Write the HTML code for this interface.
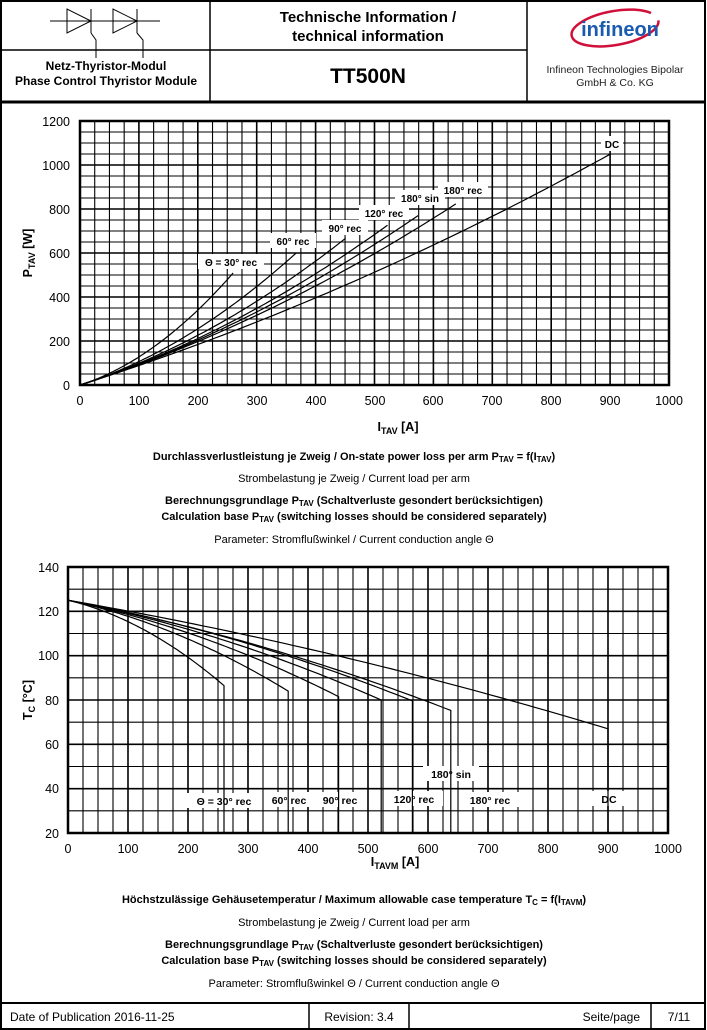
<!DOCTYPE html>
<html><head><meta charset="utf-8"><style>
body{margin:0;background:#fff;}
svg{display:block;font-family:"Liberation Sans",Arial,sans-serif;}
</style></head><body>
<svg id="s" width="707" height="1030" xmlns="http://www.w3.org/2000/svg">
<rect x="0" y="0" width="707" height="1030" fill="#fff"/>
<rect x="1" y="1" width="704" height="1028" fill="none" stroke="#000" stroke-width="2"/>
<line x1="210" y1="1" x2="210" y2="101" stroke="#000" stroke-width="1.5"/>
<line x1="527" y1="1" x2="527" y2="101" stroke="#000" stroke-width="1.5"/>
<line x1="1" y1="50" x2="527" y2="50" stroke="#000" stroke-width="1.5"/>
<line x1="1" y1="102" x2="706" y2="102" stroke="#000" stroke-width="3"/>
<line x1="1" y1="1003" x2="706" y2="1003" stroke="#000" stroke-width="2"/>
<line x1="309" y1="1003" x2="309" y2="1030" stroke="#000" stroke-width="1.5"/>
<line x1="409" y1="1003" x2="409" y2="1030" stroke="#000" stroke-width="1.5"/>
<line x1="651" y1="1003" x2="651" y2="1030" stroke="#000" stroke-width="1.5"/>
<g stroke="#000" stroke-width="1" fill="none">
<line x1="50" y1="21" x2="160" y2="21"/>
<polygon points="67,9 67,33 91,21"/><line x1="91" y1="9" x2="91" y2="33"/>
<polyline points="91,33 96,40 96,58"/>
<polygon points="113,9 113,33 137,21"/><line x1="137" y1="9" x2="137" y2="33"/>
<polyline points="137,33 143,40 143,58"/>
</g>
<text x="368" y="22" font-size="15" font-weight="bold" text-anchor="middle">Technische Information /</text>
<text x="368" y="41" font-size="15" font-weight="bold" text-anchor="middle">technical information</text>
<text x="106" y="70" font-size="12" font-weight="bold" text-anchor="middle">Netz-Thyristor-Modul</text>
<text x="106" y="85" font-size="12" font-weight="bold" text-anchor="middle">Phase Control Thyristor Module</text>
<text x="368" y="83" font-size="21" font-weight="bold" text-anchor="middle">TT500N</text>
<ellipse cx="615" cy="28" rx="44" ry="17" fill="none" stroke="#d0103a" stroke-width="2.5" stroke-dasharray="190 40" transform="rotate(-10 615 28)"/>
<text x="620" y="36" font-size="20" font-weight="bold" fill="#1a5bb0" text-anchor="middle">infineon</text>
<text x="615" y="73" font-size="10.5" text-anchor="middle" fill="#222">Infineon Technologies Bipolar</text>
<text x="615" y="86" font-size="10.5" text-anchor="middle" fill="#222">GmbH &amp; Co. KG</text>
<g id="g1"></g><g id="g2"></g>
<g font-size="12.5" text-anchor="end">
<text x="70" y="126">1200</text><text x="70" y="170">1000</text><text x="70" y="214">800</text><text x="70" y="258">600</text><text x="70" y="302">400</text><text x="70" y="346">200</text><text x="70" y="390">0</text>
</g>
<g font-size="12.5" text-anchor="middle">
<text x="80" y="405">0</text><text x="139" y="405">100</text><text x="198" y="405">200</text><text x="257" y="405">300</text><text x="316" y="405">400</text><text x="375" y="405">500</text><text x="433" y="405">600</text><text x="492" y="405">700</text><text x="551" y="405">800</text><text x="610" y="405">900</text><text x="669" y="405">1000</text>
</g>
<text x="398" y="431" font-size="12.5" font-weight="bold" text-anchor="middle">I<tspan font-size="9" dy="3">TAV</tspan><tspan dy="-3"> [A]</tspan></text>
<text transform="translate(32 253) rotate(-90)" font-size="12.5" font-weight="bold" text-anchor="middle">P<tspan font-size="9" dy="3">TAV</tspan><tspan dy="-3"> [W]</tspan></text>
<text x="354" y="460" font-size="11" font-weight="bold" text-anchor="middle">Durchlassverlustleistung je Zweig / On-state power loss per arm P<tspan font-size="8" dy="2">TAV</tspan><tspan dy="-2"> = f(I</tspan><tspan font-size="8" dy="2">TAV</tspan><tspan dy="-2">)</tspan></text>
<text x="354" y="482" font-size="11" text-anchor="middle">Strombelastung je Zweig / Current load per arm</text>
<text x="354" y="504" font-size="11" font-weight="bold" text-anchor="middle">Berechnungsgrundlage P<tspan font-size="8" dy="2">TAV</tspan><tspan dy="-2"> (Schaltverluste gesondert berücksichtigen)</tspan></text>
<text x="354" y="520" font-size="11" font-weight="bold" text-anchor="middle">Calculation base P<tspan font-size="8" dy="2">TAV</tspan><tspan dy="-2"> (switching losses should be considered separately)</tspan></text>
<text x="354" y="543" font-size="11" text-anchor="middle">Parameter: Stromflußwinkel / Current conduction angle Θ</text>
<g font-size="12.5" text-anchor="end">
<text x="59" y="572">140</text><text x="59" y="616">120</text><text x="59" y="660">100</text><text x="59" y="705">80</text><text x="59" y="749">60</text><text x="59" y="793">40</text><text x="59" y="838">20</text>
</g>
<g font-size="12.5" text-anchor="middle">
<text x="68" y="853">0</text><text x="128" y="853">100</text><text x="188" y="853">200</text><text x="248" y="853">300</text><text x="308" y="853">400</text><text x="368" y="853">500</text><text x="428" y="853">600</text><text x="488" y="853">700</text><text x="548" y="853">800</text><text x="608" y="853">900</text><text x="668" y="853">1000</text>
</g>
<text x="395" y="866" font-size="12.5" font-weight="bold" text-anchor="middle">I<tspan font-size="9" dy="3">TAVM</tspan><tspan dy="-3"> [A]</tspan></text>
<text transform="translate(32 700) rotate(-90)" font-size="12.5" font-weight="bold" text-anchor="middle">T<tspan font-size="9" dy="3">C</tspan><tspan dy="-3"> [°C]</tspan></text>
<text x="354" y="903" font-size="11" font-weight="bold" text-anchor="middle">Höchstzulässige Gehäusetemperatur / Maximum allowable case temperature T<tspan font-size="8" dy="2">C</tspan><tspan dy="-2"> = f(I</tspan><tspan font-size="8" dy="2">TAVM</tspan><tspan dy="-2">)</tspan></text>
<text x="354" y="926" font-size="11" text-anchor="middle">Strombelastung je Zweig / Current load per arm</text>
<text x="354" y="948" font-size="11" font-weight="bold" text-anchor="middle">Berechnungsgrundlage P<tspan font-size="8" dy="2">TAV</tspan><tspan dy="-2"> (Schaltverluste gesondert berücksichtigen)</tspan></text>
<text x="354" y="964" font-size="11" font-weight="bold" text-anchor="middle">Calculation base P<tspan font-size="8" dy="2">TAV</tspan><tspan dy="-2"> (switching losses should be considered separately)</tspan></text>
<text x="354" y="987" font-size="11" text-anchor="middle">Parameter: Stromflußwinkel Θ  / Current conduction angle Θ</text>
<text x="10" y="1021" font-size="12">Date of Publication 2016-11-25</text>
<text x="359" y="1021" font-size="12" text-anchor="middle">Revision: 3.4</text>
<text x="640" y="1021" font-size="12" text-anchor="end">Seite/page</text>
<text x="679" y="1021" font-size="12" text-anchor="middle">7/11</text>
</svg>
<script>
(function(){
var NS="http://www.w3.org/2000/svg";
function el(p,t,a,txt){var e=document.createElementNS(NS,t);for(var k in a)e.setAttribute(k,a[k]);if(txt)e.textContent=txt;p.appendChild(e);return e;}
var g1=document.getElementById("g1"),g2=document.getElementById("g2");
function X1(i){return 80+i*0.589;} function Y1(p){return 385-p*0.22;}
for(var i=0;i<=1000;i+=25)el(g1,"line",{x1:X1(i),y1:121,x2:X1(i),y2:385,stroke:"#000","stroke-width":i%100==0?1.6:1.1});
for(var p=0;p<=1200;p+=50)el(g1,"line",{x1:80,y1:Y1(p),x2:669,y2:Y1(p),stroke:"#000","stroke-width":p%200==0?1.6:1.1});
el(g1,"rect",{x:80,y:121,width:589,height:264,fill:"none",stroke:"#000","stroke-width":2.5});
var topc=[[260,509],[367,600],[451,667],[522,726],[574,770],[638,823],[900,1049]];
topc.forEach(function(c){var k=(c[1]-0.85*c[0])/(c[0]*c[0]);var pts=[];for(var j=0;j<=60;j++){var I=c[0]*j/60;pts.push(X1(I).toFixed(1)+","+Y1(0.85*I+k*I*I).toFixed(1));}
el(g1,"polyline",{points:pts.join(" "),fill:"none",stroke:"#000","stroke-width":1.2});});
function lab(g,x,y,t,w,fs){el(g,"rect",{x:x-w/2,y:y-8,width:w,height:15,fill:"#fff"});el(g,"text",{x:x,y:y+4,"font-size":fs||10,"font-weight":"bold","text-anchor":"middle"},t);}
lab(g1,231,262,"Θ = 30° rec",66);lab(g1,293,241,"60° rec",46);lab(g1,345,228,"90° rec",46);lab(g1,384,213,"120° rec",50);lab(g1,420,198,"180° sin",50);lab(g1,463,190,"180° rec",50);lab(g1,612,144,"DC",22);
function X2(i){return 68+i*0.6;} function Y2(t){return 833-(t-20)*2.2167;}
for(var i=0;i<=1000;i+=25)el(g2,"line",{x1:X2(i),y1:567,x2:X2(i),y2:833,stroke:"#000","stroke-width":i%100==0?1.6:1.1});
for(var t=20;t<=140;t+=10)el(g2,"line",{x1:68,y1:Y2(t),x2:668,y2:Y2(t),stroke:"#000","stroke-width":t%20==0?1.6:1.1});
var bot=[86.5,84,81.5,80,79.6,75.3,67];
var lb=[[224,801,"Θ = 30° rec",74],[289,800,"60° rec",50],[340,800,"90° rec",50],[414,799,"120° rec",58],[451,774,"180° sin",56],[490,800,"180° rec",58],[609,799,"DC",50]];
lb.forEach(function(l){lab(g2,l[0],l[1],l[2],l[3],10.5);});
topc.forEach(function(c,n){var k=(c[1]-0.85*c[0])/(c[0]*c[0]);var cc=(125-bot[n])/c[1];var pts=[];for(var j=0;j<=60;j++){var I=c[0]*j/60;var P=0.85*I+k*I*I;pts.push(X2(I).toFixed(1)+","+Y2(125-cc*P).toFixed(1));}
pts.push(X2(c[0]).toFixed(1)+","+Y2(20));
el(g2,"polyline",{points:pts.join(" "),fill:"none",stroke:"#000","stroke-width":1.2});});
el(g2,"rect",{x:68,y:567,width:600,height:266,fill:"none",stroke:"#000","stroke-width":2.5});
})();
</script>
</body></html>
